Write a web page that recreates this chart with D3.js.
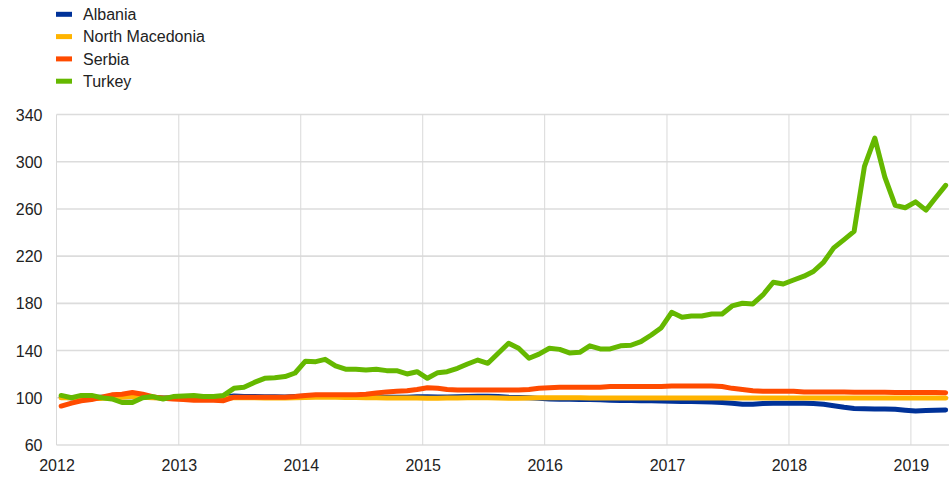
<!DOCTYPE html>
<html>
<head>
<meta charset="utf-8">
<script src="https://cdn.jsdelivr.net/npm/d3@7"></script>
<style>
  html, body { margin: 0; padding: 0; background: #fff; }
  svg { display: block; font-family: Arial, "Liberation Sans", sans-serif; }
  .tick text { fill: #222; font-size: 16px; }
  .legend text { fill: #222; font-size: 16px; }
</style>
</head>
<body>
<svg id="chart" width="949" height="477"></svg>
<script>
/* ========================================================
   DATA (monthly index, Jan 2012 - Apr 2019)
   ======================================================== */
const seriesNames = ["Albania", "North Macedonia", "Serbia", "Turkey"];
const seriesColors = ["#003299", "#ffb400", "#ff4b00", "#65b800"];
const startYear = 2012;
const yearTicks = [2012, 2013, 2014, 2015, 2016, 2017, 2018, 2019];
const valueTicks = [60, 100, 140, 180, 220, 260, 300, 340];

const albania = [
  100.5, 100, 100, 100.2, 100.5, 100.5, 100.8, 101, 100.5, 100.3, 100, 100,
  100, 100, 100, 100.2, 100.5, 101.5, 101, 101, 100.8, 100.8, 100.6, 101,
  101.2, 101.2, 101.3, 101.3, 101.2, 101, 101, 100.8, 100.5, 100.5, 100.5, 100.8,
  100.8, 100.6, 100.6, 100.8, 101, 101.2, 101.2, 101, 100.5, 100.3, 100, 99.5,
  99, 98.8, 98.8, 98.5, 98.5, 98.3, 98, 97.8, 97.6, 97.5, 97.5, 97.3,
  97, 96.8, 96.8, 96.6, 96.5, 96, 95.3, 94.6, 94.6, 95.2, 95.3, 95.3,
  95.3, 95.3, 95.2, 94.5, 93.3, 92, 91, 90.8, 90.6, 90.6, 90.2, 89.5,
  88.8, 89.2, 89.5, 89.6
];
const northMacedonia = [
  100, 100, 99.8, 99.5, 99.5, 99.8, 100.5, 101, 100.5, 100, 99.8, 99.8,
  99.8, 99.5, 99.5, 99.6, 99.8, 100, 100, 100, 99.8, 99.8, 99.8, 100,
  100.3, 100.5, 100.5, 100.4, 100.3, 100.2, 100, 100, 99.8, 99.8, 99.8, 99.8,
  99.6, 99.6, 99.8, 99.8, 100, 100, 100, 99.8, 99.6, 99.6, 99.8, 100,
  100, 100, 100, 100, 99.8, 99.8, 99.8, 99.8, 99.8, 99.8, 99.8, 99.8,
  99.8, 99.8, 99.8, 99.8, 99.8, 99.8, 99.8, 99.8, 99.8, 99.8, 99.8, 99.8,
  99.8, 99.8, 99.8, 99.8, 99.8, 99.8, 99.8, 99.8, 99.8, 99.8, 99.8, 99.8,
  99.8, 99.8, 99.8, 99.8
];
const serbia = [
  93, 95.5, 97.5, 98.5, 100.5, 102.5, 103, 104.5, 103, 101, 99.5, 99,
  98.5, 98, 98, 98, 97.5, 100.5, 100.5, 100.5, 100.5, 100.5, 100.5, 101,
  102, 102.5, 102.5, 102.5, 102.5, 102.5, 103, 104, 105, 105.5, 106, 107,
  108.5, 108, 107, 106.5, 106.5, 106.5, 106.5, 106.5, 106.5, 106.5, 107, 108,
  108.5, 109, 109, 109, 109, 109, 109.5, 109.5, 109.5, 109.5, 109.5, 109.5,
  110, 110, 110, 110, 110, 109.5, 108, 107, 106, 105.5, 105.5, 105.5,
  105.5, 105, 105, 105, 104.8, 104.8, 104.6, 104.6, 104.6, 104.6, 104.5, 104.5,
  104.5, 104.5, 104.4, 104.3
];
const turkey = [
  102, 100, 102, 102, 100, 99, 96, 96, 100, 101, 99, 101,
  101.5, 102, 101, 101, 102, 108, 109, 113, 116.5, 117, 118, 121,
  131, 130.6, 132.6, 127, 124.2, 124.2, 123.6, 124.2, 123, 123, 120.2, 122.1,
  116.5, 121.3, 122.1, 125, 128.6, 132, 129.2, 137.7, 146.2, 142, 133.5, 137,
  142, 141, 138, 138.5, 144, 141.4, 141.4, 144, 144.5, 147.6, 153.2, 159.4,
  172.4, 168.2, 169.3, 169.3, 171, 171, 177.8, 180.1, 179.5, 187.1, 197.9, 196.4,
  199.8, 203, 207, 215, 227, 234, 241, 296, 320, 287, 263, 261,
  266, 259, 269, 280
];
const seriesValues = [albania, northMacedonia, serbia, turkey];

/* ========================================================
   LAYOUT
   ======================================================== */
const svg = d3.select("#chart");
const plotLeft = 56.5, plotRight = 951, plotTop = 114.5, plotBottom = 445;

const x = d3.scaleTime()
  .domain([new Date(2012, 0, 1), new Date(2019, 4, 1)])
  .range([plotLeft, plotRight]);
const y = d3.scaleLinear().domain([60, 340]).range([plotBottom, plotTop]);

// month index -> mid-month date
const monthDate = i => new Date(startYear + Math.floor(i / 12), i % 12, 15);

// gridlines
const grid = svg.append("g");
grid.selectAll("line.h")
  .data(valueTicks)
  .enter().append("line")
  .attr("x1", plotLeft).attr("x2", 949)
  .attr("y1", d => y(d)).attr("y2", d => y(d))
  .attr("stroke", "#dcdcdc").attr("stroke-width", 1.6);
grid.selectAll("line.v")
  .data(yearTicks)
  .enter().append("line")
  .attr("x1", d => x(new Date(d, 0, 1))).attr("x2", d => x(new Date(d, 0, 1)))
  .attr("y1", plotTop).attr("y2", plotBottom)
  .attr("stroke", "#d9d9d9").attr("stroke-width", 1);

// axes (labels only)
const yAxis = svg.append("g")
  .attr("transform", `translate(${plotLeft - 14},0)`)
  .call(d3.axisLeft(y).tickValues(valueTicks).tickSize(0).tickPadding(0));
yAxis.select(".domain").remove();
yAxis.selectAll("text").attr("dy", "0.35em");

const xAxis = svg.append("g")
  .attr("transform", `translate(0,${plotBottom + 14})`)
  .call(d3.axisBottom(x)
    .tickValues(yearTicks.map(d => new Date(d, 0, 1)))
    .tickFormat(d3.timeFormat("%Y"))
    .tickSize(0).tickPadding(0));
xAxis.select(".domain").remove();
xAxis.selectAll("text").attr("dy", "0.75em");

// lines
const line = d3.line()
  .x((d, i) => x(monthDate(i)))
  .y(d => y(d));

svg.append("g").selectAll("path")
  .data(seriesValues)
  .enter().append("path")
  .attr("d", d => line(d))
  .attr("fill", "none")
  .attr("stroke", (d, i) => seriesColors[i])
  .attr("stroke-width", 5)
  .attr("stroke-linejoin", "round")
  .attr("stroke-linecap", "round");

// legend
const legend = svg.append("g").attr("class", "legend");
const rows = legend.selectAll("g")
  .data(seriesNames)
  .enter().append("g")
  .attr("transform", (d, i) => `translate(56,${14.3 + i * 22.3})`);
rows.append("rect")
  .attr("x", 0).attr("y", -2.5)
  .attr("width", 16).attr("height", 5)
  .attr("fill", (d, i) => seriesColors[i]);
rows.append("text")
  .attr("x", 27).attr("dy", "0.35em")
  .text(d => d);
</script>
</body>
</html>
